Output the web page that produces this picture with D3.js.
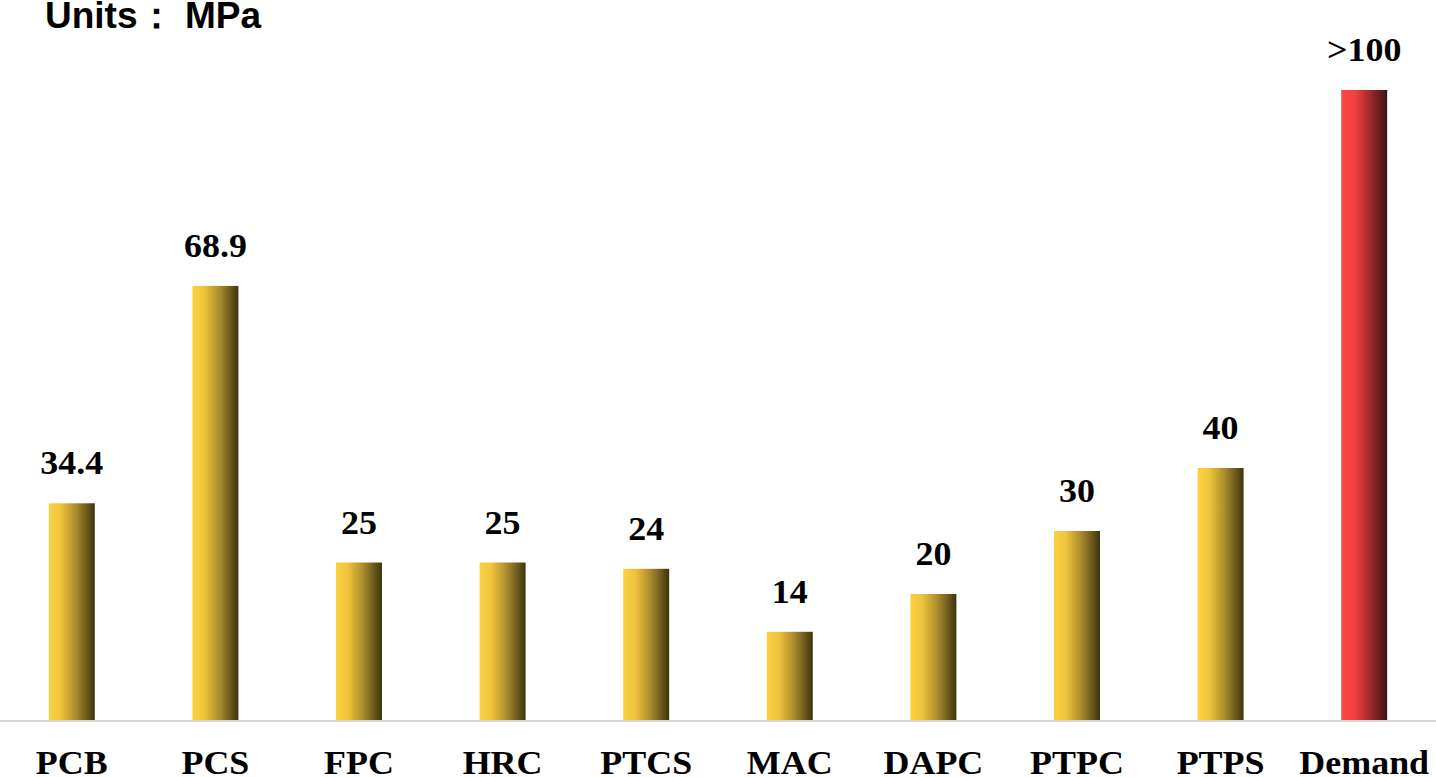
<!DOCTYPE html>
<html>
<head>
<meta charset="utf-8">
<script src="https://cdn.jsdelivr.net/npm/d3@7"></script>
<style>
	html, body { margin: 0; padding: 0; background: #fff; }
	svg { display: block; }
	.title { font: bold 37px 'Liberation Sans', Arial, sans-serif; fill: #000; }
	.value, .cat { font: bold 33px 'Liberation Serif', 'Times New Roman', serif; fill: #000; }
</style>
</head>
<body>
<div id="chart"></div>
<script>
// data
const categories = ['PCB', 'PCS', 'FPC', 'HRC', 'PTCS', 'MAC', 'DAPC', 'PTPC', 'PTPS', 'Demand'];
const values = [34.4, 68.9, 25, 25, 24, 14, 20, 30, 40, 100];
const valueLabels = ['34.4', '68.9', '25', '25', '24', '14', '20', '30', '40', '>100'];
const highlight = ['Demand'];

const width = 1436;
const height = 777;
const baseline = 720;
const stretch = 1.09; // the labels are a bit wider than plain Times

const svg = d3.select('#chart')
	.append('svg')
	.attr('width', width)
	.attr('height', height);

// gradients: bright on the left, dark on the right
const defs = svg.append('defs');
const addGradient = (id, stops) => {
	const g = defs.append('linearGradient')
		.attr('id', id)
		.attr('x1', '0%').attr('x2', '100%')
		.attr('y1', '0%').attr('y2', '0%');
	stops.forEach(([o, c]) => g.append('stop').attr('offset', o).attr('stop-color', c));
};
addGradient('gold', [['0%', '#fbd040'], ['25%', '#f0c53c'], ['60%', '#a88a2c'], ['100%', '#3e3310']]);
addGradient('red', [['0%', '#ff4848'], ['30%', '#f04040'], ['65%', '#9a2a2a'], ['100%', '#3a1414']]);

const x = d3.scaleBand()
	.domain(categories)
	.range([0, width])
	.paddingInner(0.68)
	.paddingOuter(0.34);

const y = d3.scaleLinear()
	.domain([0, 100])
	.range([baseline, 90]);

const cx = d => x(d) + x.bandwidth() / 2;

// axis line
svg.append('line')
	.attr('x1', 0)
	.attr('x2', width)
	.attr('y1', baseline + 1)
	.attr('y2', baseline + 1)
	.attr('stroke', '#d9d9d9')
	.attr('stroke-width', 2);

// bars
svg.append('g')
	.selectAll('rect')
	.data(categories)
	.join('rect')
	.attr('x', d => x(d))
	.attr('y', (d, i) => y(values[i]))
	.attr('width', x.bandwidth())
	.attr('height', (d, i) => y(0) - y(values[i]))
	.attr('fill', d => highlight.includes(d) ? 'url(#red)' : 'url(#gold)');

// value labels
svg.append('g')
	.selectAll('text')
	.data(categories)
	.join('text')
	.attr('class', 'value')
	.attr('text-anchor', 'middle')
	.attr('transform', (d, i) => `translate(${cx(d)},${y(values[i]) - 29}) scale(${stretch},1)`)
	.text((d, i) => valueLabels[i]);

// category labels
svg.append('g')
	.selectAll('text')
	.data(categories)
	.join('text')
	.attr('class', 'cat')
	.attr('text-anchor', 'middle')
	.attr('transform', d => `translate(${cx(d)},774) scale(${stretch},1)`)
	.text(d => d);

// units
const title = svg.append('text')
	.attr('class', 'title')
	.attr('y', 28);
title.append('tspan').attr('x', 45).text('Units：');
title.append('tspan').attr('x', 185).text('MPa');
</script>
</body>
</html>
